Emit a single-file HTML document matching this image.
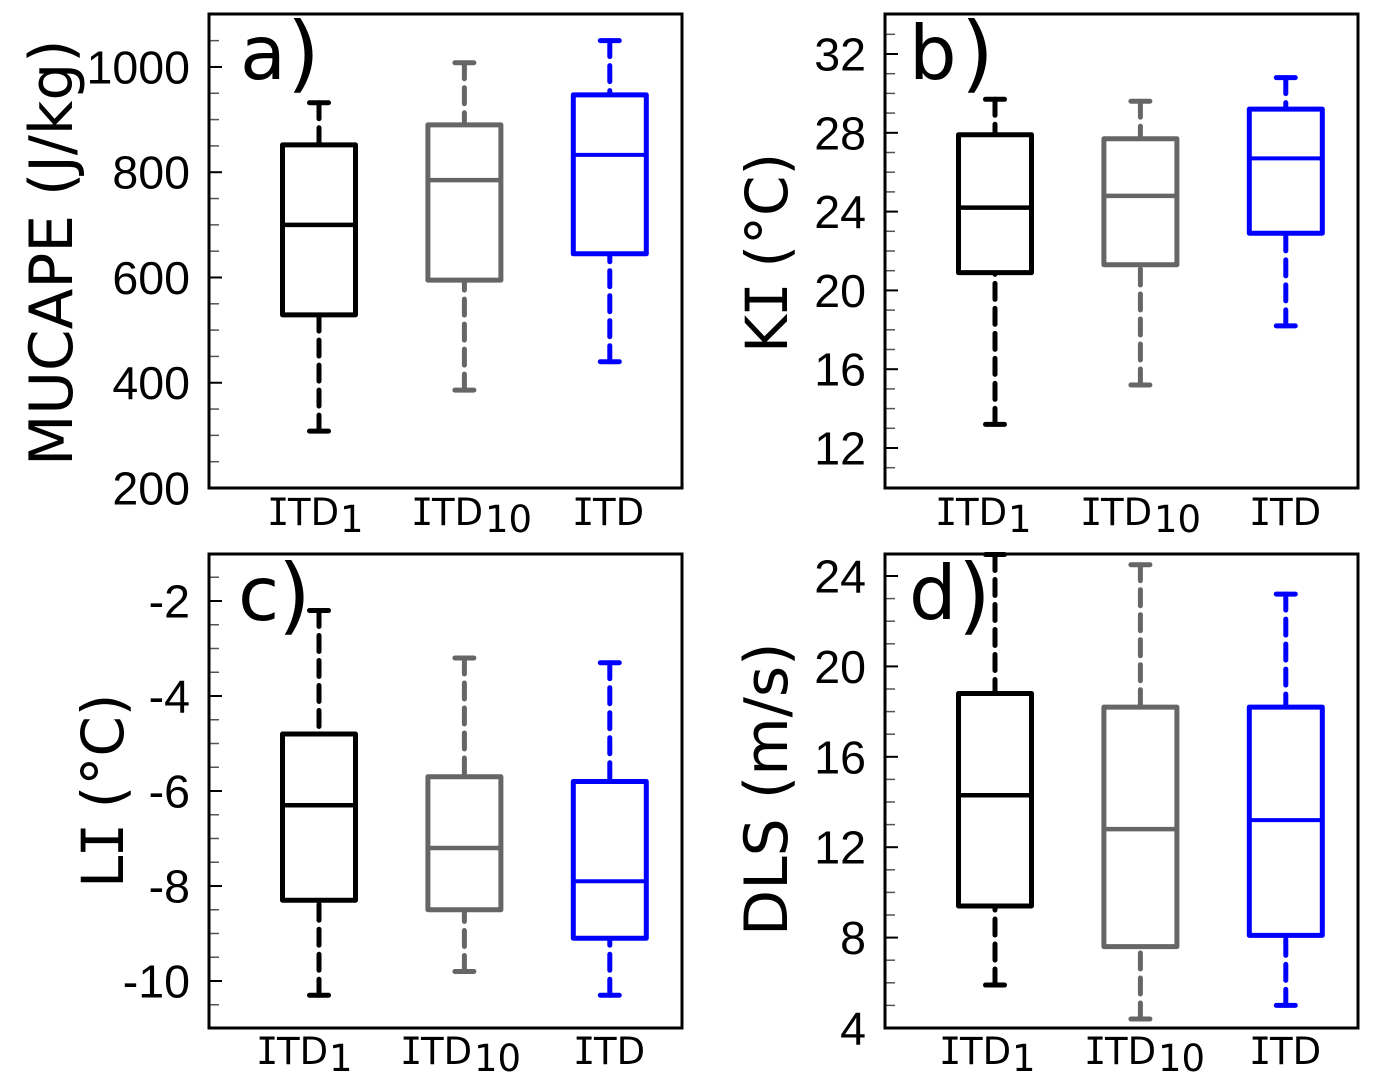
<!DOCTYPE html>
<html>
<head>
<meta charset="utf-8">
<style>
html,body{margin:0;padding:0;background:#fff;}
svg{display:block;}
.lab{font-family:"DejaVu Sans",sans-serif;fill:#000;}
.ser{font-family:"DejaVu Sans Mono",monospace;}
.cat{font-size:37px;}
.ylab{font-size:58px;}
.ttl{font-size:75px;}
.par{font-size:84px;}
.tick{font-family:"Liberation Sans",sans-serif;font-size:46.5px;fill:#000;text-anchor:end;}
</style>
</head>
<body>
<svg id="chart" width="1373" height="1082" viewBox="0 0 1373 1082" xmlns="http://www.w3.org/2000/svg">
<rect width="1373" height="1082" fill="#fff"/>
<g id="marks"></g>

<text class="lab ylab" style="font-size:59.6px" transform="translate(72,466) rotate(-90)">MUCAPE (J/kg)</text>
<text class="lab ylab" transform="translate(787,353) rotate(-90)">K<tspan class="ser" dx="-2">I</tspan><tspan dx="-4"> (°C)</tspan></text>
<text class="lab ylab" transform="translate(123,888) rotate(-90)">L<tspan class="ser" dx="-2">I</tspan><tspan dx="-4"> (°C)</tspan></text>
<text class="lab ylab" style="font-size:60px" transform="translate(787,936) rotate(-90)">DLS (m/s)</text>

<text class="lab ttl" x="240" y="79">a<tspan class="par" x="287" y="82">)</tspan></text>
<text class="lab ttl" x="909" y="79">b<tspan class="par" x="961" y="82">)</tspan></text>
<text class="lab ttl" x="238" y="620">c<tspan class="par" x="278" y="624">)</tspan></text>
<text class="lab ttl" x="909" y="619">d<tspan class="par" x="958" y="624">)</tspan></text>

<text class="lab cat" y="525"><tspan class="ser" x="267">I</tspan><tspan x="288">TD</tspan><tspan x="340" y="532">1</tspan></text>
<text class="lab cat" y="525"><tspan class="ser" x="411">I</tspan><tspan x="432">TD</tspan><tspan x="485" y="532">10</tspan></text>
<text class="lab cat" y="525"><tspan class="ser" x="572">I</tspan><tspan x="593">TD</tspan></text>

<text class="lab cat" y="525"><tspan class="ser" x="935">I</tspan><tspan x="956">TD</tspan><tspan x="1008" y="532">1</tspan></text>
<text class="lab cat" y="525"><tspan class="ser" x="1080">I</tspan><tspan x="1101">TD</tspan><tspan x="1154" y="532">10</tspan></text>
<text class="lab cat" y="525"><tspan class="ser" x="1249">I</tspan><tspan x="1270">TD</tspan></text>

<text class="lab cat" y="1064"><tspan class="ser" x="256">I</tspan><tspan x="277">TD</tspan><tspan x="329" y="1071">1</tspan></text>
<text class="lab cat" y="1064"><tspan class="ser" x="400">I</tspan><tspan x="421">TD</tspan><tspan x="474" y="1071">10</tspan></text>
<text class="lab cat" y="1064"><tspan class="ser" x="573">I</tspan><tspan x="594">TD</tspan></text>

<text class="lab cat" y="1064"><tspan class="ser" x="939">I</tspan><tspan x="960">TD</tspan><tspan x="1012" y="1071">1</tspan></text>
<text class="lab cat" y="1064"><tspan class="ser" x="1084">I</tspan><tspan x="1105">TD</tspan><tspan x="1158" y="1071">10</tspan></text>
<text class="lab cat" y="1064"><tspan class="ser" x="1249">I</tspan><tspan x="1270">TD</tspan></text>
</svg>

<script>
// Box-plot statistics, one value per category (ITD1, ITD10, ITD)
const seriesColors = ['#000000', '#666666', '#0000ff'];

const aMin = [308, 386, 440];
const aQ1 = [529, 595, 645];
const aMedian = [700, 785, 833];
const aQ3 = [852, 890, 947];
const aMax = [932, 1008, 1050];
const aTicks = ['200', '400', '600', '800', '1000'];

const bMin = [13.2, 15.2, 18.2];
const bQ1 = [20.9, 21.3, 22.9];
const bMedian = [24.2, 24.8, 26.7];
const bQ3 = [27.9, 27.7, 29.2];
const bMax = [29.7, 29.6, 30.8];
const bTicks = ['12', '16', '20', '24', '28', '32'];

const cMin = [-10.3, -9.8, -10.3];
const cQ1 = [-8.3, -8.5, -9.1];
const cMedian = [-6.3, -7.2, -7.9];
const cQ3 = [-4.8, -5.7, -5.8];
const cMax = [-2.2, -3.2, -3.3];
const cTicks = ['-10', '-8', '-6', '-4', '-2'];

const dMin = [5.9, 4.4, 5.0];
const dQ1 = [9.4, 7.6, 8.1];
const dMedian = [14.3, 12.8, 13.2];
const dQ3 = [18.8, 18.2, 18.2];
const dMax = [24.95, 24.5, 23.2];
const dTicks = ['4', '8', '12', '16', '20', '24'];

const NS = 'http://www.w3.org/2000/svg';
const marks = document.getElementById('marks');

function make(tag, attrs) {
  const el = document.createElementNS(NS, tag);
  for (const k in attrs) el.setAttribute(k, attrs[k]);
  marks.appendChild(el);
  return el;
}

function drawPanel(p) {
  const top = p.bottom - 474, right = p.left + 473;
  const y = v => p.refY - (v - p.refVal) * p.scale;
  const x = i => p.left + 110 + 145.4 * i;
  const halfBox = 36.5, halfCap = 9.5;

  // minor ticks
  const bottomVal = p.refVal - (p.bottom - p.refY) / p.scale;
  const first = Math.ceil(bottomVal / p.minor) * p.minor;
  for (let v = first; y(v) > top; v += p.minor) {
    if (y(v) > p.bottom - 1) continue;
    const t = make('line', {x1: p.left, x2: p.left + 10, y1: y(v), y2: y(v), stroke: '#555', 'stroke-width': 1.5});
    
    
  }
  // major ticks + labels
  p.ticks.forEach(label => {
    const v = Number(label), py = y(v);
    const t = make('line', {x1: p.left, x2: p.left + 13, y1: py, y2: py, stroke: '#000', 'stroke-width': 2});
    
    
    const txt = make('text', {class: 'tick', x: p.left - 19, y: py + 16.5});
    
    
    txt.textContent = label;
  });
  // boxes
  seriesColors.forEach((color, i) => {
    const cx = x(i);
    const g = make('g', {fill: 'none', stroke: color, 'stroke-width': 5});
    
    
    const add = (tag, a) => { const e = make(tag, a); g.appendChild(e); return e; };
    const dash = {'stroke-dasharray': '16 9', 'stroke-linecap': 'round'};
    const up = add('line', Object.assign({x1: cx, x2: cx, y1: y(p.max[i]), y2: y(p.q3[i])}, dash));
    
    
    const down = add('line', Object.assign({x1: cx, x2: cx, y1: y(p.min[i]), y2: y(p.q1[i])}, dash));
    
    
    const capHi = add('line', {x1: cx - halfCap, x2: cx + halfCap, y1: y(p.max[i]), y2: y(p.max[i]), 'stroke-linecap': 'round'});
    
    
    const capLo = add('line', {x1: cx - halfCap, x2: cx + halfCap, y1: y(p.min[i]), y2: y(p.min[i]), 'stroke-linecap': 'round'});
    
    
    const box = add('rect', {x: cx - halfBox, width: halfBox * 2, y: y(p.q3[i]), height: y(p.q1[i]) - y(p.q3[i]), fill: '#fff', 'stroke-linejoin': 'round'});
    
    
    const med = add('line', {x1: cx - halfBox, x2: cx + halfBox, y1: y(p.median[i]), y2: y(p.median[i]), 'stroke-width': i === 2 ? 4 : 4.5});
    
    
  });
  // frame
  const frame = make('rect', {x: p.left, y: top, width: right - p.left, height: p.bottom - top, fill: 'none', stroke: '#000', 'stroke-width': 3});
  
  
}

drawPanel({name: 'a', left: 209, bottom: 488, refVal: 200, refY: 488, scale: 0.5263, minor: 50,
  ticks: aTicks, min: aMin, q1: aQ1, median: aMedian, q3: aQ3, max: aMax});
drawPanel({name: 'b', left: 885, bottom: 488, refVal: 12, refY: 448, scale: 19.7, minor: 1,
  ticks: bTicks, min: bMin, q1: bQ1, median: bMedian, q3: bQ3, max: bMax});
drawPanel({name: 'c', left: 209, bottom: 1028, refVal: -10, refY: 981, scale: 47.5, minor: 0.5,
  ticks: cTicks, min: cMin, q1: cQ1, median: cMedian, q3: cQ3, max: cMax});
drawPanel({name: 'd', left: 885, bottom: 1028, refVal: 4, refY: 1028, scale: 22.6, minor: 1,
  ticks: dTicks, min: dMin, q1: dQ1, median: dMedian, q3: dQ3, max: dMax});
</script>
</body>
</html>
